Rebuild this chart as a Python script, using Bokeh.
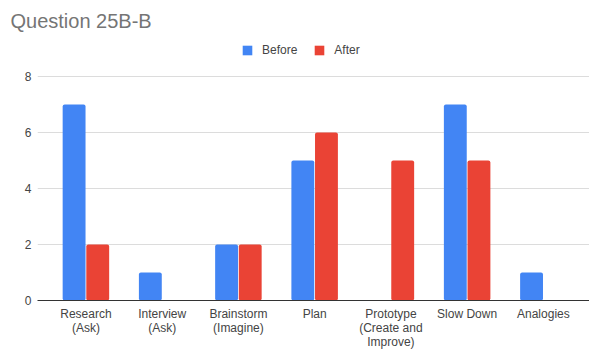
from bokeh.plotting import figure
from bokeh.models import (ColumnDataSource, FixedTicker, Legend, LegendItem, Range1d)
from bokeh.embed import file_html
from bokeh.resources import INLINE

title_text = "Question 25B-B"
categories = ["Research\n(Ask)", "Interview\n(Ask)", "Brainstorm\n(Imagine)", "Plan",
              "Prototype\n(Create and\nImprove)", "Slow Down", "Analogies"]
before = [7, 1, 2, 5, 0, 7, 1]
after = [2, 0, 2, 6, 5, 5, 0]
y_ticks = [0, 2, 4, 6, 8]

FONT = "Liberation Sans"
TXT = "#444444"
BLUE = "#4285F4"
RED = "#EA4335"

xs = list(range(len(categories)))
src = ColumnDataSource(dict(
    xb=[x - 0.155 for x in xs], xa=[x + 0.155 for x in xs], before=before, after=after))

p = figure(width=589, height=351, output_backend="svg", toolbar_location=None,
           x_range=Range1d(-0.635, 6.605), y_range=Range1d(0, 9.28),
           min_border_left=37, min_border_right=0, min_border_top=40, min_border_bottom=50)
p.outline_line_color = None
p.background_fill_color = "white"
p.border_fill_color = "white"

p.title.text = title_text
p.title.align = "left"
p.title.vertical_align = "top"
p.title.offset = -27
p.title.text_font = FONT
p.title.text_font_size = "20px"
p.title.text_font_style = "normal"
p.title.text_color = "#757575"
p.title.standoff = 13

rb = p.vbar(x="xb", top="before", width=0.30, source=src, fill_color=BLUE, line_color=None,
            border_radius=2)
ra = p.vbar(x="xa", top="after", width=0.30, source=src, fill_color=RED, line_color=None,
            border_radius=2)

p.xgrid.grid_line_color = None
p.ygrid.grid_line_color = "#dcdcdc"
p.ygrid.ticker = FixedTicker(ticks=y_ticks)

p.yaxis.ticker = FixedTicker(ticks=y_ticks)
p.yaxis.axis_line_color = None
p.yaxis.major_tick_line_color = None
p.yaxis.minor_tick_line_color = None
p.yaxis.major_tick_out = 0
p.yaxis.major_tick_in = 0
p.yaxis.major_label_text_font = FONT
p.yaxis.major_label_text_font_size = "12px"
p.yaxis.major_label_text_color = TXT
p.yaxis.major_label_standoff = 6

p.xaxis.ticker = FixedTicker(ticks=xs)
p.xaxis.major_label_overrides = {i: c for i, c in enumerate(categories)}
p.xaxis.axis_line_color = "#333333"
p.xaxis.major_tick_line_color = None
p.xaxis.minor_tick_line_color = None
p.xaxis.major_tick_out = 0
p.xaxis.major_tick_in = 0
p.xaxis.major_label_text_font = FONT
p.xaxis.major_label_text_font_size = "12px"
p.xaxis.major_label_text_color = TXT
p.xaxis.major_label_text_line_height = 1.0
p.xaxis.major_label_standoff = 6

legend = Legend(items=[LegendItem(label="Before", renderers=[rb]),
                       LegendItem(label="After", renderers=[ra])],
                orientation="horizontal", location=(204, 243),
                glyph_width=12, glyph_height=12, label_height=12, label_standoff=9,
                spacing=16, padding=0, margin=0, border_line_color=None,
                background_fill_alpha=0,
                label_text_font=FONT, label_text_font_size="12px", label_text_color=TXT)
p.add_layout(legend, "center")

open("out.html", "w").write(file_html(p, INLINE))
